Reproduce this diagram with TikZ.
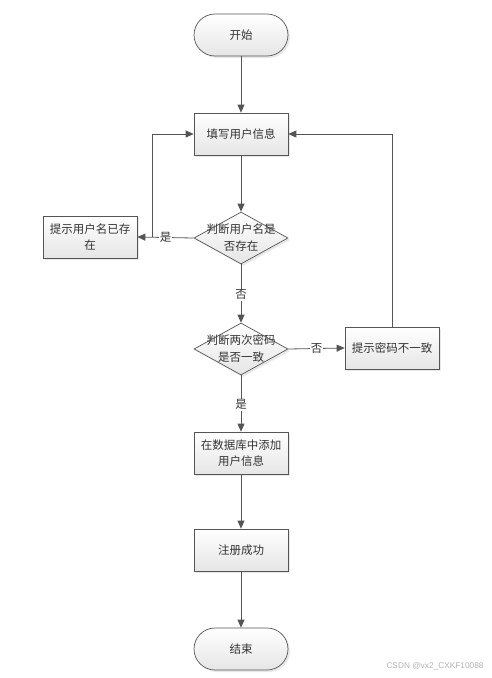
\documentclass[tikz,border=0pt]{standalone}
\usepackage{fontspec}
\newfontfamily\cjk{Noto Sans CJK SC}
\setsansfont{Liberation Sans}
\usetikzlibrary{shapes.geometric,arrows.meta,shadows}
\definecolor{ln}{HTML}{555555}
\begin{document}
\begin{tikzpicture}[x=1pt,y=-1pt,
  every node/.style={font=\cjk\fontsize{11.5}{16}\selectfont, text=black!80},
  shade/.style={top color=white, bottom color=black!10, draw=ln, line width=0.7pt,
     drop shadow={opacity=0.18, shadow xshift=2pt, shadow yshift=-2pt}},
  procbox/.style={shade, rectangle, minimum width=94pt, minimum height=42pt, inner sep=2pt, align=center},
  termbox/.style={shade, rectangle, rounded corners=21pt, minimum width=94pt, minimum height=42pt},
  decbox/.style={shade, diamond, minimum width=94pt, minimum height=52pt, inner sep=0pt},
  dectext/.style={align=center, font=\cjk\fontsize{11.5}{17}\selectfont, text=black!80},
  conn/.style={draw=ln, line width=0.8pt, -{Triangle[length=8pt,width=7pt]}},
  lbl/.style={fill=white, inner sep=1pt}
]
\useasboundingbox (0,0) rectangle (491,678);
\node[termbox] (start) at (241,35) {开始};
\node[procbox] (fill) at (241,134) {填写用户信息};
\node[decbox, label={[dectext]center:判断用户名是\\否存在}] (d1) at (241,238) {};
\node[procbox, text width=88pt] (exist) at (90,237) {提示用户名已存\\在};
\node[decbox, label={[dectext]center:判断两次密码\\是否一致}] (d2) at (241,349) {};
\node[procbox] (mismatch) at (392,348) {提示密码不一致};
\node[procbox] (add) at (241,453) {在数据库中添加\\用户信息};
\node[procbox] (ok) at (241,550) {注册成功};
\node[termbox] (end) at (241,649) {结束};
\coordinate (j1) at (152,237);
\node[font=\sffamily\fontsize{8.3}{10}\selectfont, text=black!30] (wm) at (435,666) {CSDN @vx2\_CXKF10088};

\draw[conn] (start) -- (fill);
\draw[conn] (fill) -- (d1);
\draw[conn] (d1.west) -- node[lbl, pos=0.5]{是} (exist.east);
\draw[conn] (j1) |- (fill.west);
\draw[conn] (d1) -- node[lbl, pos=0.52]{否} (d2);
\draw[conn] (d2.east) -- node[lbl, pos=0.5]{否} (mismatch.west);
\draw[conn] (mismatch.north) |- (fill.east);
\draw[conn] (d2) -- node[lbl, pos=0.52]{是} (add);
\draw[conn] (add) -- (ok);
\draw[conn] (ok) -- (end);
\end{tikzpicture}
\end{document}
